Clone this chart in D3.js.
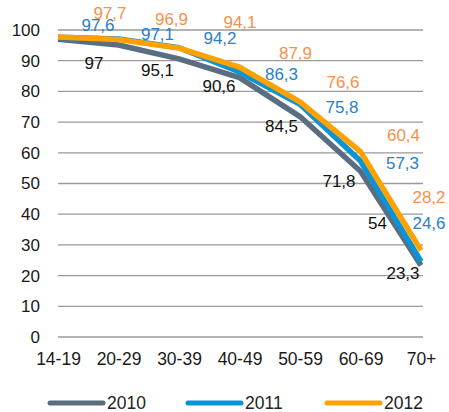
<!DOCTYPE html>
<html>
<head>
<meta charset="utf-8">
<script src="https://cdn.jsdelivr.net/npm/d3@7"></script>
<style>
  body { margin: 0; background: #fff; }
  svg { font-family: "Liberation Sans", Arial, sans-serif; }
</style>
</head>
<body>
<svg id="drawing_region"></svg>
<script>
const categories = ['14-19', '20-29', '30-39', '40-49', '50-59', '60-69', '70+'];
const values2010 = [97, 95.1, 90.6, 84.5, 71.8, 54, 23.3];
const values2011 = [97.6, 97.1, 94.2, 86.3, 75.8, 57.3, 24.6];
const values2012 = [97.7, 96.9, 94.1, 87.9, 76.6, 60.4, 28.2];
const yTicks = [0, 10, 20, 30, 40, 50, 60, 70, 80, 90, 100];
const years = ['2010', '2011', '2012'];

// where each label sits relative to its point (hand placed in the original)
const labelNudge = {
    '2010': [[36, 24], [39, 25], [40, 28], [42, 49], [39, 65], [17, 52], [-18, 8]],
    '2011': [[40, -12], [39, -4], [41, -9], [42, 2], [42, 3], [42, 2], [8, -38]],
    '2012': [[52, -24], [53, -20], [61, -26], [56, -14], [43, -19], [43, -16], [8, -53]]
};

const series = [
    { name: years[0], values: values2010, line: '#5b6e81', text: '#111111' },
    { name: years[1], values: values2011, line: '#0a94d6', text: '#2880cc' },
    { name: years[2], values: values2012, line: '#ffa200', text: '#f5914a' }
];

const config = {
    width: 449,
    height: 412,
    left: 58, right: 423,
    top: 30, bottom: 337,
    fontSize: 17
};

const svg = d3.select('#drawing_region')
    .attr('width', config.width)
    .attr('height', config.height);

const x = d3.scalePoint()
    .domain(categories)
    .range([config.left, 421]);

const y = d3.scaleLinear()
    .domain([0, 100])
    .range([config.bottom, config.top]);

// grid
svg.append('g')
    .selectAll('line')
    .data(yTicks)
    .join('line')
    .attr('x1', config.left)
    .attr('x2', config.right)
    .attr('y1', d => y(d))
    .attr('y2', d => y(d))
    .attr('stroke', '#9a9a9a')
    .attr('stroke-width', 1.3);

// y axis
const yAxis = svg.append('g')
    .attr('transform', `translate(${config.left},0)`)
    .call(d3.axisLeft(y).tickValues(yTicks).tickSize(0).tickPadding(18));
yAxis.select('.domain').remove();
yAxis.selectAll('text')
    .attr('font-size', config.fontSize)
    .attr('fill', '#1a1a1a')
    .attr('font-family', '"Liberation Sans", Arial, sans-serif');

// x axis
const xAxis = svg.append('g')
    .attr('transform', `translate(0,${config.bottom})`)
    .call(d3.axisBottom(x).tickSize(0).tickPadding(16));
xAxis.select('.domain').remove();
xAxis.selectAll('text')
    .attr('font-size', 17.5)
    .attr('fill', '#1a1a1a')
    .attr('font-family', '"Liberation Sans", Arial, sans-serif');

// lines
const line = d3.line()
    .x((d, i) => x(categories[i]))
    .y(d => y(d));

svg.append('g')
    .selectAll('path')
    .data(series)
    .join('path')
    .attr('d', d => line(d.values))
    .attr('fill', 'none')
    .attr('stroke', d => d.line)
    .attr('stroke-width', 5.5)
    .attr('stroke-linejoin', 'round');

// data labels
const fmt = v => String(v).replace('.', ',');
series.forEach(s => {
    svg.append('g')
        .selectAll('text')
        .data(s.values)
        .join('text')
        .attr('x', (d, i) => x(categories[i]) + labelNudge[s.name][i][0])
        .attr('y', (d, i) => y(d) + labelNudge[s.name][i][1])
        .attr('text-anchor', 'middle')
        .attr('dominant-baseline', 'central')
        .attr('font-size', config.fontSize)
        .attr('fill', s.text)
        .text(d => fmt(d));
});

// legend
const legendX = [48, 186, 325];
const legend = svg.append('g')
    .selectAll('g')
    .data(series)
    .join('g')
    .attr('transform', (d, i) => `translate(${legendX[i]},403)`);
legend.append('line')
    .attr('x1', 2).attr('x2', 55)
    .attr('stroke', d => d.line)
    .attr('stroke-width', 5)
    .attr('stroke-linecap', 'round');
legend.append('text')
    .attr('x', 59)
    .attr('y', 0)
    .attr('dominant-baseline', 'central')
    .attr('font-size', 17.5)
    .attr('fill', '#222')
    .text(d => d.name);
</script>
</body>
</html>
